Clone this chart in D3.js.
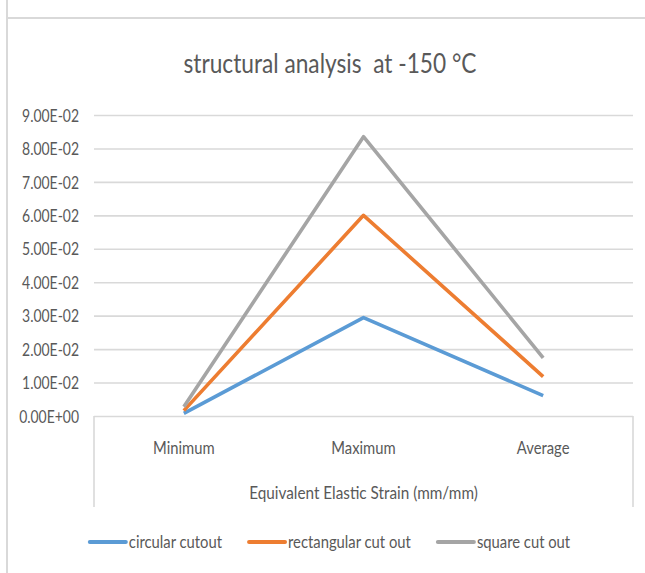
<!DOCTYPE html>
<html>
<head>
<meta charset="utf-8">
<script src="https://cdn.jsdelivr.net/npm/d3@7"></script>
<style>
  html, body { margin: 0; padding: 0; background: #fff; }
  svg { display: block; }
  text { font-family: Lato, "Open Sans", sans-serif; fill: #595959; }
</style>
</head>
<body>
<svg id="chart" width="645" height="573"></svg>
<script>
// Chart data
const categories = ["Minimum", "Maximum", "Average"];
const circularCutout = [0.0008, 0.0294, 0.0061];
const rectangularCutOut = [0.0016, 0.0600, 0.0118];
const squareCutOut = [0.0028, 0.0835, 0.0174];
const seriesNames = ["circular cutout", "rectangular cut out", "square cut out"];
const seriesColors = ["#5b9bd5", "#ed7d31", "#a5a5a5"];
const yTicks = [0, 0.01, 0.02, 0.03, 0.04, 0.05, 0.06, 0.07, 0.08, 0.09];
const chartTitle = "structural analysis  at -150 °C";
const xAxisTitle = "Equivalent Elastic Strain (mm/mm)";

const series = [circularCutout, rectangularCutOut, squareCutOut].map((vals, i) => ({
  name: seriesNames[i],
  color: seriesColors[i],
  values: vals.map((v, j) => ({ cat: categories[j], v }))
}));

const svg = d3.select("#chart");
const W = 645, H = 573;
const plot = { left: 94, right: 633, top: 115, bottom: 416 };
const gridColor = "#d9d9d9";
const fs = "17px";

// Narrow the sans face toward a condensed office-style look
function condense(sel, k) {
  sel.each(function () {
    const w = this.getComputedTextLength();
    d3.select(this).attr("textLength", w * k).attr("lengthAdjust", "spacingAndGlyphs");
  });
}

// Scientific notation labels, e.g. 9.00E-02
function sci(v) {
  if (v === 0) return "0.00E+00";
  const e = Math.floor(Math.log10(Math.abs(v)) + 1e-9);
  const m = v / Math.pow(10, e);
  const sign = e < 0 ? "-" : "+";
  return m.toFixed(2) + "E" + sign + String(Math.abs(e)).padStart(2, "0");
}

// Chart area frame (left and top edges)
svg.append("line").attr("x1", 7).attr("x2", 7).attr("y1", 0).attr("y2", H)
  .attr("stroke", gridColor).attr("stroke-width", 2);
svg.append("line").attr("x1", 7).attr("x2", W).attr("y1", 18).attr("y2", 18)
  .attr("stroke", gridColor).attr("stroke-width", 2);

const x = d3.scaleBand().domain(categories).range([plot.left, plot.right]).padding(0);
const y = d3.scaleLinear().domain([0, 0.09]).range([plot.bottom, plot.top]);
const cx = c => x(c) + x.bandwidth() / 2;

// Value axis with gridlines
const yAxis = svg.append("g")
  .attr("transform", `translate(${plot.left},0)`)
  .attr("font-size", null).attr("font-family", null)
  .call(d3.axisLeft(y).tickValues(yTicks).tickFormat(sci)
    .tickSize(-(plot.right - plot.left)).tickPadding(15));
yAxis.select(".domain").remove();
yAxis.selectAll(".tick line").attr("stroke", gridColor).attr("stroke-width", 1.6);
const yLabels = yAxis.selectAll(".tick text")
  .attr("fill", "#595959").style("font-size", fs)
  .attr("dy", "0.36em");

// Category axis box
svg.append("line").attr("x1", plot.left).attr("x2", plot.left)
  .attr("y1", plot.bottom).attr("y2", 507).attr("stroke", gridColor).attr("stroke-width", 1.6);
svg.append("line").attr("x1", plot.right).attr("x2", plot.right)
  .attr("y1", plot.bottom).attr("y2", 507).attr("stroke", gridColor).attr("stroke-width", 1.6);

const xLabels = svg.append("g").selectAll("text").data(categories).join("text")
  .attr("x", d => cx(d)).attr("y", 453.5)
  .attr("text-anchor", "middle").style("font-size", fs)
  .text(d => d);

// Series lines
const line = d3.line().x(d => cx(d.cat)).y(d => y(d.v));
svg.append("g").selectAll("path").data(series).join("path")
  .attr("d", d => line(d.values))
  .attr("fill", "none")
  .attr("stroke", d => d.color)
  .attr("stroke-width", 3.6)
  .attr("stroke-linejoin", "round");

// Titles
const title = svg.append("text")
  .attr("x", 330).attr("y", 72.5).attr("text-anchor", "middle")
  .style("font-size", "27px").style("white-space", "pre")
  .text(chartTitle);
const axTitle = svg.append("text")
  .attr("x", (plot.left + plot.right) / 2).attr("y", 499)
  .attr("text-anchor", "middle").style("font-size", fs)
  .text(xAxisTitle);

// Legend
const legend = svg.append("g");
const items = legend.selectAll("g").data(series).join("g");
items.append("line").attr("x1", 0).attr("x2", 36).attr("y1", 0).attr("y2", 0)
  .attr("stroke", d => d.color).attr("stroke-width", 4).attr("stroke-linecap", "round");
const legTexts = items.append("text").attr("x", 39).attr("y", 0).attr("dy", "0.36em")
  .style("font-size", fs).text(d => d.name);

condense(yLabels, 0.82);
condense(xLabels, 0.87);
condense(axTitle, 0.9);
condense(legTexts, 0.87);
condense(title, 0.84);

let off = 0;
const gap = 27;
items.each(function () {
  const t = d3.select(this).select("text").node();
  const w = 39 + (+t.getAttribute("textLength"));
  d3.select(this).attr("transform", `translate(${off},0)`);
  off += w + gap;
});
const total = off - gap;
legend.attr("transform", `translate(${330 - total / 2},542)`);
</script>
</body>
</html>
